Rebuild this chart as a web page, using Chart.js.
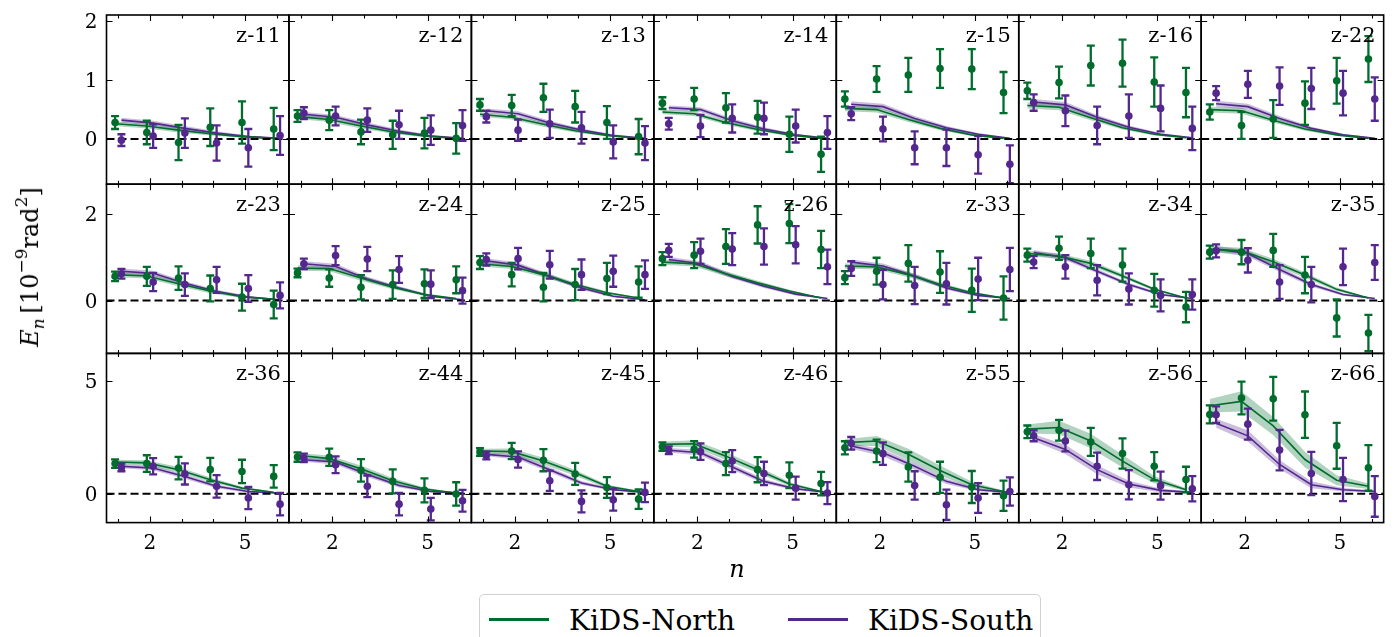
<!DOCTYPE html>
<html>
<head>
<meta charset="utf-8">
<script src="https://cdn.jsdelivr.net/npm/chart.js@4.4.1/dist/chart.umd.min.js"></script>
<style>
  body { margin: 0; background: #fff; width: 1395px; height: 637px; overflow: hidden; position: relative; font-family: "DejaVu Serif", serif; }
  canvas { position: absolute; left: 0; top: 0; }
  #ylabel { position: absolute; left: 30px; top: 267px; font-size: 24px; white-space: nowrap; line-height: 1; transform: translate(-50%, -50%) rotate(-90deg); }
  #ylabel .s { font-size: 17px; position: relative; }
  #xlabel { position: absolute; left: 737px; top: 557px; font-size: 24px; font-style: italic; line-height: 1; transform: translateX(-50%); }
  #legend { position: absolute; left: 479px; top: 594px; width: 562px; height: 60px; border: 1px solid #d0d0d0; border-radius: 5px; box-sizing: border-box; background: #fff; }
  #legend .ln { position: absolute; top: 23px; width: 60px; height: 3px; }
  #legend .tx { position: absolute; top: 12px; font-size: 28px; line-height: 1; white-space: nowrap; }
</style>
</head>
<body>
<div id="ylabel"><i>E</i><span class="s" style="top:6px"><i>n</i></span>&thinsp;[10<span class="s" style="top:-11px">−9</span>rad<span class="s" style="top:-11px">2</span>]</div>
<div id="xlabel">n</div>
<div id="legend">
  <div class="ln" style="left:9px;background:#006d2c"></div><div class="tx" style="left:89px">KiDS-North</div>
  <div class="ln" style="left:308px;background:#54278f"></div><div class="tx" style="left:388px">KiDS-South</div>
</div>
<script>
// panels, 3 rows of 7
const panelNames = ["z-11", "z-12", "z-13", "z-14", "z-15", "z-16", "z-22",
  "z-23", "z-24", "z-25", "z-26", "z-33", "z-34", "z-35",
  "z-36", "z-44", "z-45", "z-46", "z-55", "z-56", "z-66"];
const nValues = [1, 2, 3, 4, 5, 6];
const xMajorTicks = [2, 5];
const xMinorTicks = [1, 3, 4, 6];
const rowYTicks = [[0, 1, 2], [0, 2], [0, 5]];
const rowYMin = [-0.77, -1.22, -1.28];
const rowYMax = [2.11, 2.69, 6.23];
const xMin = 0.63, xMax = 6.38;

// measured E_n, KiDS-North
const northE = [
  [0.28, 0.11, -0.06, 0.20, 0.28, 0.17], [0.39, 0.32, 0.12, 0.07, 0.10, 0.01],
  [0.58, 0.57, 0.70, 0.55, 0.28, 0.04], [0.61, 0.68, 0.53, 0.37, 0.08, -0.26],
  [0.68, 1.02, 1.09, 1.20, 1.19, 0.79], [0.82, 0.96, 1.25, 1.29, 0.97, 0.79],
  [0.46, 0.23, 0.34, 0.61, 0.99, 1.36], [0.56, 0.56, 0.52, 0.28, 0.08, -0.09],
  [0.64, 0.52, 0.31, 0.37, 0.39, 0.48], [0.88, 0.60, 0.31, 0.37, 0.51, 0.43],
  [0.97, 1.05, 1.25, 1.75, 1.78, 1.18], [0.53, 0.68, 0.86, 0.66, 0.24, 0.06],
  [1.05, 1.21, 1.09, 0.82, 0.24, -0.15], [1.12, 1.12, 1.16, 0.59, -0.40, -0.75],
  [1.34, 1.34, 1.14, 1.07, 0.99, 0.77], [1.63, 1.62, 1.04, 0.55, 0.15, -0.01],
  [1.85, 1.90, 1.49, 0.88, 0.28, -0.24], [2.09, 1.97, 1.34, 1.07, 0.82, 0.45],
  [2.04, 1.90, 1.19, 0.73, 0.30, -0.09], [2.75, 2.82, 2.30, 1.79, 1.22, 0.63],
  [3.52, 4.25, 4.22, 3.51, 2.13, 1.15]
];
const northErr = [
  [0.11, 0.20, 0.30, 0.32, 0.36, 0.36], [0.10, 0.17, 0.21, 0.24, 0.26, 0.26],
  [0.10, 0.18, 0.24, 0.27, 0.28, 0.30], [0.10, 0.19, 0.25, 0.28, 0.30, 0.30],
  [0.13, 0.22, 0.29, 0.33, 0.34, 0.35], [0.14, 0.27, 0.34, 0.40, 0.42, 0.42],
  [0.13, 0.23, 0.32, 0.37, 0.39, 0.39], [0.11, 0.22, 0.27, 0.30, 0.31, 0.32],
  [0.10, 0.20, 0.28, 0.33, 0.33, 0.31], [0.15, 0.27, 0.33, 0.36, 0.36, 0.36],
  [0.15, 0.30, 0.40, 0.43, 0.45, 0.43], [0.15, 0.31, 0.42, 0.48, 0.50, 0.50],
  [0.15, 0.27, 0.34, 0.38, 0.38, 0.35], [0.15, 0.28, 0.38, 0.42, 0.43, 0.42],
  [0.19, 0.37, 0.50, 0.52, 0.52, 0.50], [0.21, 0.38, 0.50, 0.53, 0.53, 0.52],
  [0.17, 0.36, 0.49, 0.49, 0.46, 0.43], [0.19, 0.37, 0.51, 0.56, 0.57, 0.52],
  [0.29, 0.50, 0.65, 0.69, 0.71, 0.67], [0.28, 0.46, 0.62, 0.67, 0.63, 0.57],
  [0.40, 0.73, 0.97, 1.03, 1.02, 1.01]
];
// measured E_n, KiDS-South
const southE = [
  [-0.02, 0.05, 0.10, -0.07, -0.15, 0.06], [0.44, 0.39, 0.32, 0.24, 0.15, 0.23],
  [0.38, 0.15, 0.26, 0.19, -0.05, -0.07], [0.26, 0.22, 0.35, 0.35, 0.22, 0.11],
  [0.43, 0.17, -0.15, -0.15, -0.27, -0.43], [0.62, 0.48, 0.23, 0.39, 0.52, 0.18],
  [0.78, 0.93, 0.90, 0.86, 0.78, 0.68], [0.62, 0.43, 0.37, 0.48, 0.28, 0.12],
  [0.85, 1.04, 0.96, 0.72, 0.38, 0.23], [0.95, 0.97, 0.83, 0.60, 0.68, 0.60],
  [1.16, 1.14, 1.19, 1.25, 1.29, 0.78], [0.74, 0.37, 0.35, 0.39, 0.50, 0.72],
  [0.89, 0.78, 0.47, 0.27, 0.12, 0.14], [1.15, 0.93, 0.43, 0.37, 0.78, 0.88],
  [1.17, 1.22, 0.88, 0.33, -0.19, -0.46], [1.59, 1.29, 0.33, -0.46, -0.68, -0.31],
  [1.70, 1.52, 0.58, -0.34, -0.27, 0.06], [1.93, 1.87, 1.45, 0.90, 0.25, 0.03],
  [2.24, 1.78, 0.37, -0.49, -0.19, 0.10], [2.57, 2.34, 1.22, 0.40, 0.36, 0.22],
  [3.51, 3.09, 1.94, 0.90, 0.63, -0.12]
];
const southErr = [
  [0.10, 0.20, 0.25, 0.30, 0.32, 0.33], [0.10, 0.16, 0.20, 0.24, 0.25, 0.26],
  [0.10, 0.18, 0.24, 0.27, 0.28, 0.29], [0.10, 0.19, 0.24, 0.27, 0.28, 0.28],
  [0.11, 0.21, 0.28, 0.31, 0.32, 0.32], [0.14, 0.26, 0.32, 0.37, 0.39, 0.37],
  [0.12, 0.23, 0.32, 0.35, 0.38, 0.37], [0.11, 0.21, 0.26, 0.30, 0.31, 0.30],
  [0.12, 0.22, 0.28, 0.31, 0.32, 0.30], [0.14, 0.25, 0.32, 0.35, 0.36, 0.33],
  [0.15, 0.29, 0.37, 0.42, 0.43, 0.40], [0.17, 0.34, 0.43, 0.48, 0.49, 0.50],
  [0.14, 0.27, 0.35, 0.36, 0.37, 0.35], [0.15, 0.28, 0.39, 0.41, 0.42, 0.40],
  [0.17, 0.36, 0.47, 0.50, 0.49, 0.50], [0.19, 0.37, 0.48, 0.50, 0.50, 0.48],
  [0.17, 0.36, 0.45, 0.49, 0.48, 0.43], [0.17, 0.37, 0.49, 0.52, 0.51, 0.49],
  [0.28, 0.50, 0.63, 0.67, 0.66, 0.63], [0.24, 0.46, 0.61, 0.65, 0.62, 0.56],
  [0.37, 0.69, 0.90, 0.96, 0.96, 0.90]
];
// model prediction and its band half-width
const northModel = [
  [0.26, 0.22, 0.15, 0.09, 0.04, 0.01], [0.38, 0.33, 0.22, 0.12, 0.05, 0.01],
  [0.42, 0.37, 0.25, 0.14, 0.06, 0.01], [0.46, 0.43, 0.28, 0.16, 0.07, 0.01],
  [0.52, 0.50, 0.33, 0.18, 0.07, 0.01], [0.57, 0.54, 0.36, 0.19, 0.08, 0.02],
  [0.50, 0.48, 0.32, 0.17, 0.07, 0.01], [0.60, 0.57, 0.39, 0.22, 0.09, 0.03],
  [0.75, 0.74, 0.52, 0.31, 0.14, 0.05], [0.85, 0.79, 0.60, 0.37, 0.18, 0.06],
  [0.89, 0.85, 0.62, 0.41, 0.22, 0.06], [0.80, 0.78, 0.60, 0.37, 0.18, 0.06],
  [1.09, 1.03, 0.86, 0.57, 0.26, 0.06], [1.19, 1.15, 0.90, 0.59, 0.26, 0.06],
  [1.41, 1.37, 1.07, 0.62, 0.25, 0.07], [1.71, 1.56, 1.11, 0.58, 0.21, 0.03],
  [1.90, 1.87, 1.45, 0.93, 0.33, 0.10], [2.19, 2.22, 1.67, 1.07, 0.43, 0.10],
  [2.27, 2.34, 1.75, 1.03, 0.40, 0.10], [2.87, 2.94, 2.34, 1.45, 0.63, 0.18],
  [3.91, 4.10, 3.01, 1.52, 0.60, 0.33]
];
const southModel = [
  [0.32, 0.27, 0.18, 0.10, 0.04, 0.01], [0.42, 0.37, 0.24, 0.13, 0.05, 0.01],
  [0.48, 0.43, 0.27, 0.15, 0.06, 0.01], [0.53, 0.50, 0.31, 0.17, 0.07, 0.01],
  [0.59, 0.55, 0.35, 0.19, 0.08, 0.01], [0.63, 0.58, 0.37, 0.20, 0.08, 0.02],
  [0.60, 0.55, 0.35, 0.18, 0.07, 0.01], [0.68, 0.63, 0.40, 0.21, 0.08, 0.02],
  [0.85, 0.79, 0.50, 0.29, 0.10, 0.02], [0.92, 0.82, 0.56, 0.29, 0.10, 0.02],
  [0.95, 0.85, 0.56, 0.33, 0.15, 0.05], [0.89, 0.80, 0.57, 0.29, 0.12, 0.05],
  [1.11, 0.99, 0.68, 0.37, 0.14, 0.05], [1.19, 1.09, 0.72, 0.37, 0.14, 0.05],
  [1.22, 1.14, 0.77, 0.33, 0.10, 0.03], [1.51, 1.41, 0.85, 0.37, 0.10, 0.03],
  [1.75, 1.63, 1.07, 0.48, 0.18, 0.06], [1.93, 1.82, 1.19, 0.55, 0.22, 0.06],
  [2.12, 1.82, 1.22, 0.55, 0.18, 0.06], [2.49, 1.97, 1.07, 0.43, 0.15, 0.06],
  [3.13, 2.57, 1.30, 0.40, 0.18, 0.10]
];
const northBand = [
  [0.04, 0.04, 0.04, 0.03, 0.02, 0.01], [0.04, 0.04, 0.04, 0.03, 0.02, 0.01],
  [0.04, 0.04, 0.04, 0.03, 0.02, 0.01], [0.04, 0.04, 0.04, 0.03, 0.02, 0.01],
  [0.05, 0.05, 0.04, 0.03, 0.02, 0.01], [0.05, 0.05, 0.04, 0.03, 0.02, 0.01],
  [0.05, 0.05, 0.04, 0.03, 0.02, 0.01], [0.06, 0.06, 0.06, 0.05, 0.03, 0.01],
  [0.06, 0.06, 0.06, 0.05, 0.03, 0.01], [0.06, 0.06, 0.06, 0.05, 0.03, 0.01],
  [0.06, 0.06, 0.06, 0.05, 0.03, 0.01], [0.06, 0.06, 0.06, 0.05, 0.03, 0.01],
  [0.06, 0.06, 0.06, 0.05, 0.03, 0.01], [0.07, 0.07, 0.07, 0.06, 0.04, 0.01],
  [0.10, 0.12, 0.12, 0.10, 0.06, 0.02], [0.10, 0.14, 0.14, 0.12, 0.07, 0.02],
  [0.10, 0.14, 0.15, 0.13, 0.08, 0.03], [0.12, 0.16, 0.17, 0.15, 0.09, 0.03],
  [0.15, 0.22, 0.25, 0.22, 0.13, 0.05], [0.20, 0.30, 0.32, 0.28, 0.16, 0.06],
  [0.30, 0.45, 0.40, 0.35, 0.22, 0.12]
];
const southBand = [
  [0.04, 0.04, 0.04, 0.03, 0.02, 0.01], [0.04, 0.04, 0.04, 0.03, 0.02, 0.01],
  [0.04, 0.04, 0.04, 0.03, 0.02, 0.01], [0.04, 0.04, 0.04, 0.03, 0.02, 0.01],
  [0.05, 0.05, 0.04, 0.03, 0.02, 0.01], [0.05, 0.05, 0.04, 0.03, 0.02, 0.01],
  [0.05, 0.05, 0.04, 0.03, 0.02, 0.01], [0.06, 0.06, 0.05, 0.04, 0.03, 0.01],
  [0.06, 0.06, 0.05, 0.04, 0.03, 0.01], [0.06, 0.06, 0.05, 0.04, 0.03, 0.01],
  [0.06, 0.06, 0.05, 0.04, 0.03, 0.01], [0.06, 0.06, 0.05, 0.04, 0.03, 0.01],
  [0.06, 0.06, 0.05, 0.04, 0.03, 0.01], [0.07, 0.07, 0.06, 0.05, 0.03, 0.01],
  [0.09, 0.10, 0.10, 0.08, 0.05, 0.02], [0.09, 0.11, 0.11, 0.09, 0.05, 0.02],
  [0.09, 0.11, 0.11, 0.09, 0.05, 0.02], [0.10, 0.12, 0.12, 0.10, 0.06, 0.02],
  [0.12, 0.15, 0.15, 0.12, 0.07, 0.03], [0.15, 0.20, 0.20, 0.15, 0.08, 0.03],
  [0.20, 0.25, 0.20, 0.15, 0.08, 0.04]
];

const GREEN = "#006d2c", PURPLE = "#54278f";
const GREEN_BAND = "rgba(0,109,44,0.3)", PURPLE_BAND = "rgba(84,39,143,0.3)";

// page geometry of the panel grid
const W = 1395, H = 637;
const gridLeft = 106.5, gridTop = 15, panelW = 182.45, panelH = 169.2;
const FONT = '"DejaVu Serif", serif';

const pts = (xs, ys, dx) => xs.map((n, k) => ({ x: n + dx, y: ys[k] }));

// error bars drawn right under their points
const errorBars = {
  id: "errorBars",
  beforeDatasetDraw(chart, args) {
    const ds = chart.data.datasets[args.index];
    if (!ds.errors) return;
    const { ctx, chartArea: a } = chart;
    const x = chart.scales.x, y = chart.scales.y;
    ctx.save();
    ctx.beginPath();
    ctx.rect(a.left, a.top, a.width, a.height);
    ctx.clip();
    ctx.strokeStyle = ds.backgroundColor;
    ctx.lineWidth = 2.3;
    ds.data.forEach((p, k) => {
      const px = x.getPixelForValue(p.x);
      const y1 = y.getPixelForValue(p.y - ds.errors[k]);
      const y2 = y.getPixelForValue(p.y + ds.errors[k]);
      ctx.beginPath();
      ctx.moveTo(px, y1); ctx.lineTo(px, y2);
      ctx.moveTo(px - 4, y1); ctx.lineTo(px + 4, y1);
      ctx.moveTo(px - 4, y2); ctx.lineTo(px + 4, y2);
      ctx.stroke();
    });
    ctx.restore();
  }
};

// frame, inward ticks, tick labels and the panel name
function makeFrame(name, row, col) {
  return {
    id: "frame",
    afterDraw(chart) {
      const { ctx, chartArea: a } = chart;
      const x = chart.scales.x, y = chart.scales.y;
      ctx.save();
      ctx.strokeStyle = "#000";
      ctx.lineWidth = 1.1;
      ctx.beginPath();
      xMajorTicks.concat(xMinorTicks).forEach(v => {
        const len = xMajorTicks.includes(v) ? 6 : 3.5;
        const px = Math.round(x.getPixelForValue(v)) + 0.5;
        ctx.moveTo(px, a.bottom); ctx.lineTo(px, a.bottom - len);
        ctx.moveTo(px, a.top); ctx.lineTo(px, a.top + len);
      });
      rowYTicks[row].forEach(v => {
        const py = Math.round(y.getPixelForValue(v)) + 0.5;
        ctx.moveTo(a.left, py); ctx.lineTo(a.left + 6, py);
        ctx.moveTo(a.right, py); ctx.lineTo(a.right - 6, py);
      });
      ctx.stroke();
      ctx.lineWidth = 1.6;
      ctx.strokeRect(a.left, a.top, a.width, a.height);

      ctx.fillStyle = "#000";
      ctx.font = "21px " + FONT;
      ctx.textAlign = "right";
      ctx.textBaseline = "alphabetic";
      ctx.fillText(name, a.right - 8, a.top + 27);

      ctx.font = "20px " + FONT;
      if (col === 0) {
        rowYTicks[row].forEach(v => {
          ctx.fillText(String(v), a.left - 9, y.getPixelForValue(v) + 7);
        });
      }
      if (row === 2) {
        ctx.textAlign = "center";
        xMajorTicks.forEach(v => {
          ctx.fillText(String(v), x.getPixelForValue(v), a.bottom + 26);
        });
      }
      ctx.restore();
    }
  };
}

panelNames.forEach((name, i) => {
  const row = Math.floor(i / 7), col = i % 7;
  const left = gridLeft + col * panelW, top = gridTop + row * panelH;

  const canvas = document.createElement("canvas");
  canvas.width = W; canvas.height = H;
  canvas.style.width = W + "px"; canvas.style.height = H + "px";
  document.body.insertBefore(canvas, document.getElementById("ylabel"));

  const nLo = northModel[i].map((v, k) => v - northBand[i][k]);
  const nHi = northModel[i].map((v, k) => v + northBand[i][k]);
  const sLo = southModel[i].map((v, k) => v - southBand[i][k]);
  const sHi = southModel[i].map((v, k) => v + southBand[i][k]);

  const band = (data, fill, color) => ({
    data, order: 4, borderWidth: 0, pointRadius: 0, fill,
    backgroundColor: color, borderColor: "transparent", tension: 0
  });
  const line = (data, color) => ({
    data, order: 3, borderWidth: 1.6, pointRadius: 0, fill: false,
    borderColor: color, tension: 0
  });
  const points = (data, errors, color, order) => ({
    data, errors, order, showLine: false, pointRadius: 3.8, pointBorderWidth: 0,
    backgroundColor: color, borderColor: color, pointBackgroundColor: color
  });

  new Chart(canvas, {
    type: "line",
    data: {
      datasets: [
        band(pts(nValues, nLo, -0.1), false, GREEN_BAND),
        band(pts(nValues, nHi, -0.1), "-1", GREEN_BAND),
        band(pts(nValues, sLo, 0.1), false, PURPLE_BAND),
        band(pts(nValues, sHi, 0.1), "-1", PURPLE_BAND),
        line(pts(nValues, northModel[i], -0.1), GREEN),
        line(pts(nValues, southModel[i], 0.1), PURPLE),
        {
          data: [{ x: xMin, y: 0 }, { x: xMax, y: 0 }], order: 2,
          borderColor: "#000", borderWidth: 2, borderDash: [8, 4], pointRadius: 0, fill: false
        },
        points(pts(nValues, northE[i], -0.1), northErr[i], GREEN, 1),
        points(pts(nValues, southE[i], 0.1), southErr[i], PURPLE, 0)
      ]
    },
    options: {
      responsive: false,
      animation: false,
      devicePixelRatio: 1,
      events: [],
      layout: {
        padding: { left: left, top: top, right: W - left - panelW, bottom: H - top - panelH }
      },
      scales: {
        x: { type: "linear", min: xMin, max: xMax, display: false },
        y: { type: "linear", min: rowYMin[row], max: rowYMax[row], display: false }
      },
      plugins: { legend: { display: false }, tooltip: { enabled: false } }
    },
    plugins: [errorBars, makeFrame(name, row, col)]
  });
});
</script>
</body>
</html>
